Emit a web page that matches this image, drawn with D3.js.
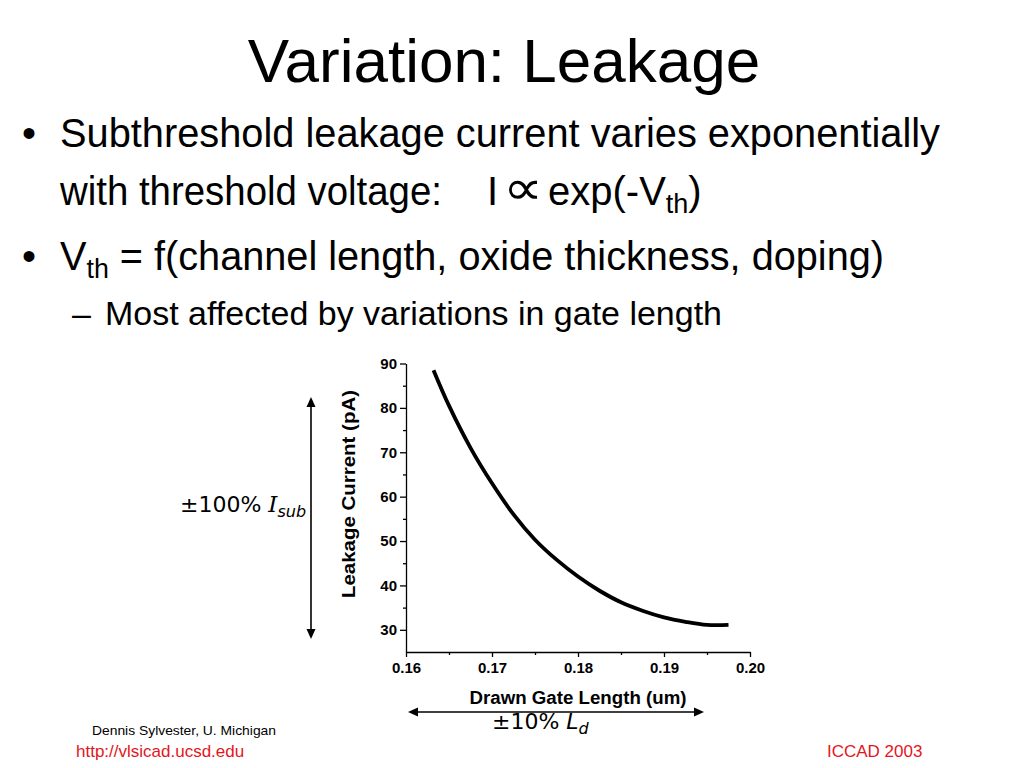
<!DOCTYPE html>
<html>
<head>
<meta charset="utf-8">
<script src="https://cdn.jsdelivr.net/npm/d3@7"></script>
<style>
  html, body { margin: 0; padding: 0; background: #fff; }
  svg { display: block; }
</style>
</head>
<body>
<svg id="chart" width="1024" height="768"></svg>
<script>
// ---- data ----
const gateLength = [0.1632, 0.165, 0.1675, 0.170, 0.1725, 0.175, 0.1775, 0.180, 0.1825, 0.185, 0.1875, 0.190, 0.1925, 0.195, 0.1975];
const leakage    = [88.5,   80.5,  71,     63,    56,     50.3,  45.8,   42,    38.8,   36.2,  34.3,   32.8,  31.8,   31.1,  31.1];
const xMajorTicks = [0.16, 0.17, 0.18, 0.19, 0.20];
const xMinorTicks = [0.165, 0.175, 0.185, 0.195];
const yMajorTicks = [30, 40, 50, 60, 70, 80, 90];
const yMinorTicks = [35, 45, 55, 65, 75, 85];
const xDomain = [0.16, 0.20];
const yDomain = [25, 90];

const svg = d3.select("#chart");
svg.append("rect").attr("width", 1024).attr("height", 768).attr("fill", "#fff");

const sans = "'Liberation Sans', Arial, Helvetica, sans-serif";
const verd = "'DejaVu Sans', Verdana, sans-serif";

// ---- title ----
svg.append("text").attr("x", 504).attr("y", 82).attr("text-anchor", "middle")
  .attr("font-family", sans).attr("font-size", 62).attr("fill", "#000")
  .text("Variation: Leakage");

// ---- bullets ----
const bullets = svg.append("g").attr("font-family", sans).attr("fill", "#000");
bullets.append("text").attr("x", 22).attr("y", 147).attr("font-size", 40).text("\u2022");
bullets.append("text").attr("x", 60).attr("y", 147).attr("font-size", 40)
  .attr("textLength", 880).attr("lengthAdjust", "spacingAndGlyphs")
  .text("Subthreshold leakage current varies exponentially");

bullets.append("text").attr("x", 60).attr("y", 205).attr("font-size", 40)
  .attr("textLength", 382).attr("lengthAdjust", "spacingAndGlyphs")
  .text("with threshold voltage:");
bullets.append("text").attr("x", 487).attr("y", 205).attr("font-size", 40).text("I");
bullets.append("g").attr("transform", "translate(503,204) scale(1.4,1.2)")
  .append("text").attr("x", 0).attr("y", 0).attr("font-family", verd).attr("font-size", 40)
  .text("\u221D");
const l2 = bullets.append("text").attr("x", 548).attr("y", 205).attr("font-size", 40);
l2.append("tspan").text("exp(-V");
l2.append("tspan").attr("font-size", 27).attr("dy", 8).text("th");
l2.append("tspan").attr("dy", -8).text(")");

bullets.append("text").attr("x", 22).attr("y", 270).attr("font-size", 40).text("\u2022");
const l3 = bullets.append("text").attr("x", 60).attr("y", 270).attr("font-size", 40)
  .attr("textLength", 824).attr("lengthAdjust", "spacingAndGlyphs");
l3.append("tspan").text("V");
l3.append("tspan").attr("font-size", 27).attr("dy", 8).text("th");
l3.append("tspan").attr("dy", -8).text(" = f(channel length, oxide thickness, doping)");

bullets.append("text").attr("x", 72).attr("y", 325).attr("font-size", 34).text("\u2013");
bullets.append("text").attr("x", 105).attr("y", 325).attr("font-size", 34)
  .attr("textLength", 617).attr("lengthAdjust", "spacingAndGlyphs")
  .text("Most affected by variations in gate length");

// ---- chart ----
const x = d3.scaleLinear().domain(xDomain).range([406, 750]);
const y = d3.scaleLinear().domain(yDomain).range([652, 363.5]);

const axisFont = g => g.attr("font-family", sans).attr("font-size", 15).attr("font-weight", "bold");

// y axis
const gy = svg.append("g").attr("transform", "translate(406,0)");
gy.call(d3.axisLeft(y).tickValues(yMajorTicks).tickSize(6).tickSizeOuter(0).tickPadding(3).tickFormat(d3.format("d")))
  .call(axisFont);
gy.append("g").call(d3.axisLeft(y).tickValues(yMinorTicks).tickSize(3).tickFormat(""))
  .call(g => g.select(".domain").remove());

// x axis
const gx = svg.append("g").attr("transform", "translate(0,652)");
gx.call(d3.axisBottom(x).tickValues(xMajorTicks).tickSize(5).tickSizeOuter(0).tickPadding(5).tickFormat(d3.format(".2f")))
  .call(axisFont);
gx.append("g").call(d3.axisBottom(x).tickValues(xMinorTicks).tickSize(3).tickFormat(""))
  .call(g => g.select(".domain").remove());

svg.selectAll(".domain, .tick line").attr("stroke", "#000").attr("stroke-width", 1.3);
svg.selectAll(".tick text").attr("fill", "#000");

// axis labels
svg.append("text").attr("x", 578).attr("y", 704).attr("text-anchor", "middle")
  .attr("font-family", sans).attr("font-weight", "bold").attr("font-size", 18)
  .attr("textLength", 217).attr("lengthAdjust", "spacingAndGlyphs")
  .text("Drawn Gate Length (um)");
svg.append("text").attr("transform", "translate(355,494) rotate(-90)").attr("text-anchor", "middle")
  .attr("font-family", sans).attr("font-weight", "bold").attr("font-size", 18)
  .attr("textLength", 208).attr("lengthAdjust", "spacingAndGlyphs")
  .text("Leakage Current (pA)");

// curve
const pts = gateLength.map((g, i) => [g, leakage[i]]);
const line = d3.line().x(d => x(d[0])).y(d => y(d[1])).curve(d3.curveCatmullRom.alpha(0.5));
svg.append("path").datum(pts).attr("d", line).attr("fill", "none")
  .attr("stroke", "#000").attr("stroke-width", 3.8).attr("stroke-linejoin", "round");

// ---- range arrows ----
const arrows = svg.append("g").attr("fill", "#000").attr("stroke", "#000");
// vertical
arrows.append("line").attr("x1", 311).attr("y1", 402).attr("x2", 311).attr("y2", 634).attr("stroke-width", 1.6);
arrows.append("path").attr("stroke", "none").attr("d", "M311,397 L306.5,407 L315.5,407 Z");
arrows.append("path").attr("stroke", "none").attr("d", "M311,639 L306.5,629 L315.5,629 Z");
// horizontal
arrows.append("line").attr("x1", 413).attr("y1", 712).attr("x2", 699).attr("y2", 712).attr("stroke-width", 1.6);
arrows.append("path").attr("stroke", "none").attr("d", "M408,712 L418,707.5 L418,716.5 Z");
arrows.append("path").attr("stroke", "none").attr("d", "M704,712 L694,707.5 L694,716.5 Z");

// annotations
const a1 = svg.append("text").attr("x", 180).attr("y", 512).attr("font-family", verd).attr("font-size", 22).attr("fill", "#000");
a1.append("tspan").text("\u00B1100% ");
a1.append("tspan").attr("font-style", "italic").attr("font-family", "'DejaVu Serif', serif").attr("font-size", 23).text("I");
a1.append("tspan").attr("font-style", "italic").attr("font-size", 16).attr("dy", 5).text("sub");

const a2 = svg.append("text").attr("x", 492).attr("y", 729).attr("font-family", verd).attr("font-size", 22).attr("fill", "#000");
a2.append("tspan").text("\u00B110% ");
a2.append("tspan").attr("font-style", "italic").text("L");
a2.append("tspan").attr("font-style", "italic").attr("font-size", 16).attr("dy", 5).text("d");

// ---- footer ----
svg.append("text").attr("x", 92).attr("y", 735).attr("font-family", sans).attr("font-size", 13)
  .attr("textLength", 184).attr("lengthAdjust", "spacingAndGlyphs").attr("fill", "#000")
  .text("Dennis Sylvester, U. Michigan");
svg.append("text").attr("x", 76).attr("y", 757).attr("font-family", sans).attr("font-size", 17)
  .attr("fill", "#e3161d").text("http://vlsicad.ucsd.edu");
svg.append("text").attr("x", 827).attr("y", 757).attr("font-family", sans).attr("font-size", 17)
  .attr("fill", "#e3161d").text("ICCAD 2003");
</script>
</body>
</html>
